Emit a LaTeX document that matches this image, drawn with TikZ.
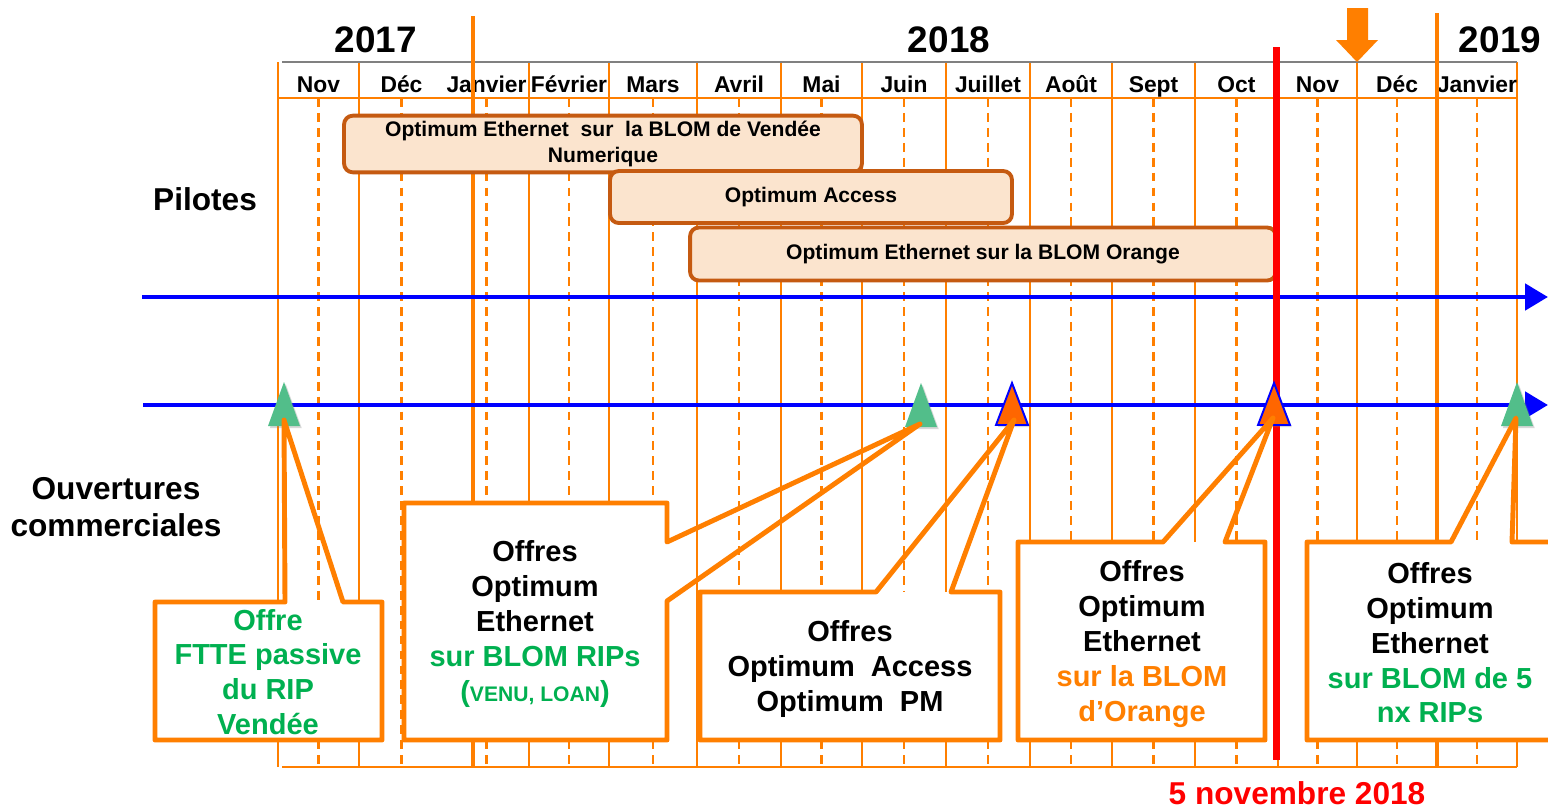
\documentclass[tikz,border=0pt]{standalone}
\usepackage{fontspec}
\setmainfont{Liberation Sans}
\usetikzlibrary{arrows.meta,shadows}

\definecolor{orangeFT}{RGB}{255,127,0}
\definecolor{brunPilote}{RGB}{197,90,17}
\definecolor{pechePilote}{RGB}{251,228,206}
\definecolor{vertJalon}{RGB}{82,190,138}
\definecolor{vertTexte}{RGB}{0,176,80}
\definecolor{orangeJalon}{RGB}{255,102,0}

\begin{document}
\begin{tikzpicture}[x=0.02cm, y=-0.02cm,
                    grille/.style={orangeFT, line width=1.1pt},
                    grille pointillee/.style={orangeFT, line width=1.2pt, dash pattern=on 5pt off 3.5pt},
                    annee/.style={font=\bfseries\fontsize{21}{25}\selectfont},
                    mois/.style={font=\bfseries\fontsize{13}{15}\selectfont, inner sep=0pt, anchor=base},
                    pilote/.style={draw=brunPilote, fill=pechePilote, line width=2.2pt, rounded corners=5pt,
                                   font=\bfseries\fontsize{12}{14.3}\selectfont, align=center},
                    axe/.style={blue, line width=2.8pt, -{Triangle[length=0.46cm, width=0.52cm]}},
                    titre/.style={font=\bfseries\fontsize{18}{21}\selectfont, align=center},
                    bulle/.style={draw=orangeFT, line width=2.8pt, line join=round},
                    texte bulle/.style={font=\bfseries\fontsize{16.5}{19.8}\selectfont, align=center, inner sep=0pt},
                    jalon vert/.style={fill=vertJalon, drop shadow={shadow xshift=1pt, shadow yshift=-1.2pt, opacity=0.3}},
                    jalon orange/.style={fill=orangeJalon, draw=blue, line width=1.1pt,
                                         drop shadow={shadow xshift=1pt, shadow yshift=-1.2pt, opacity=0.3}}]

    \clip (0,0) rectangle (1548,809);
    \fill[white] (0,0) rectangle (1548,809);

    \foreach \x in {278,359,529,609,697,781,862,946,1030,1112,1195,1278,1357,1517}
        \draw[grille] (\x,62) -- (\x,767);
    \foreach \a/\b/\m in {278/359/Nov, 359/444/Déc, 444/529/Janvier, 529/609/Février, 609/697/Mars,
                          697/781/Avril, 781/862/Mai, 862/946/Juin, 946/1030/Juillet, 1030/1112/Août,
                          1112/1195/Sept, 1195/1278/Oct, 1278/1357/Nov, 1357/1437/Déc, 1437/1517/Janvier}
    {
        \draw[grille pointillee] ({(\a+\b)/2},98) -- ({(\a+\b)/2},767);
        \node[mois] (mois-\a) at ({(\a+\b)/2},92) {\m};
    }
    \draw[gray, line width=1.2pt] (282,62) -- (1517,62);
    \draw[grille] (278,98) -- (1517,98);
    \draw[grille] (282,767) -- (1517,767);
    \draw[orangeFT, line width=1.8pt] (473,16) -- (473,767);
    \draw[orangeFT, line width=1.8pt] (1437,13) -- (1437,767);

    \node[annee] (a2017) at (376,40) {2017};
    \node[annee] (a2018) at (949,40) {2018};
    \node[annee] (a2019) at (1500,40) {2019};

    \fill[orangeFT] (1347,8) -- (1368,8) -- (1368,40) -- (1378,40) -- (1357,62) -- (1336,40) -- (1347,40) -- cycle;

    \node[pilote, minimum width=10.36cm, minimum height=1.08cm] (vendee) at (603,144)
        {Optimum Ethernet \ sur \ la BLOM de Vendée\\Numerique};
    \node[pilote, minimum width=8.04cm, minimum height=1.04cm] (access) at (811,197) {Optimum Access};
    \node[pilote, minimum width=11.72cm, minimum height=1.06cm] (blomorange) at (983,254)
        {Optimum Ethernet sur la BLOM Orange};

    \coordinate (pilotes debut) at (142,297);
    \coordinate (pilotes fin) at (1548,297);
    \coordinate (ouvertures debut) at (143,405);
    \coordinate (ouvertures fin) at (1548,405);
    \draw[axe] (pilotes debut) -- (pilotes fin);
    \draw[axe] (ouvertures debut) -- (ouvertures fin);

    \draw[red, line width=4pt] (1276,47) -- (1276,760);

    \coordinate (j1) at (284,420);
    \coordinate (j2) at (920,424);
    \coordinate (j3) at (1014,420);
    \coordinate (j4) at (1273,418);
    \coordinate (j5) at (1516,418);
    \path[jalon vert] (284,382) -- ++(16,44) -- ++(-32,0) -- cycle;
    \path[jalon vert] (921,383) -- ++(16,44) -- ++(-32,0) -- cycle;
    \filldraw[jalon orange] (1012,383) -- ++(16,42) -- ++(-32,0) -- cycle;
    \filldraw[jalon orange] (1274,383) -- ++(16,42) -- ++(-32,0) -- cycle;
    \path[jalon vert] (1517,382) -- ++(16,44) -- ++(-32,0) -- cycle;

    \fill[white] (155,602) rectangle (382,740);
    \draw[bulle] (155,602) -- (285,602) -- (j1) -- (343,602) -- (382,602) -- (382,740) -- (155,740) -- cycle;
    \node[texte bulle, vertTexte] (ftte) at (268,672) {Offre\\FTTE passive\\du RIP\\Vendée};

    \fill[white] (404,503) rectangle (667,740);
    \draw[bulle] (404,503) -- (667,503) -- (667,542) -- (j2) -- (667,601) -- (667,740) -- (404,740) -- cycle;
    \node[texte bulle] (rips) at (535,624)
        {Offres\\Optimum\\Ethernet\\\textcolor{vertTexte}{sur BLOM RIPs}\\
         \textcolor{vertTexte}{({\fontsize{12}{14}\selectfont VENU, LOAN})}};

    \fill[white] (700,592) rectangle (1000,740);
    \draw[bulle] (700,592) -- (876,592) -- (j3) -- (951,592) -- (1000,592) -- (1000,740) -- (700,740) -- cycle;
    \node[texte bulle] (offaccess) at (850,669) {Offres\\Optimum \ Access\\Optimum \ PM};

    \fill[white] (1018,542) rectangle (1265,740);
    \draw[bulle] (1018,542) -- (1163,542) -- (j4) -- (1225,542) -- (1265,542) -- (1265,740) -- (1018,740) -- cycle;
    \node[texte bulle] (offorange) at (1142,644)
        {Offres\\Optimum\\Ethernet\\\textcolor{orangeFT}{sur la BLOM}\\\textcolor{orangeFT}{d’Orange}};

    \fill[white] (1307,542) rectangle (1560,740);
    \draw[bulle] (1307,542) -- (1451,542) -- (j5) -- (1512,542) -- (1560,542) -- (1560,740) -- (1307,740) -- cycle;
    \node[texte bulle] (offcinq) at (1430,643)
        {Offres\\Optimum\\Ethernet\\\textcolor{vertTexte}{sur BLOM de 5}\\\textcolor{vertTexte}{nx RIPs}};

    \node[titre] (pilotes) at (205,199) {Pilotes};
    \node[titre] (ouvertures) at (116,507) {Ouvertures\\commerciales};
    \node[titre, red] (date) at (1297,793) {5 novembre 2018};
\end{tikzpicture}
\end{document}
